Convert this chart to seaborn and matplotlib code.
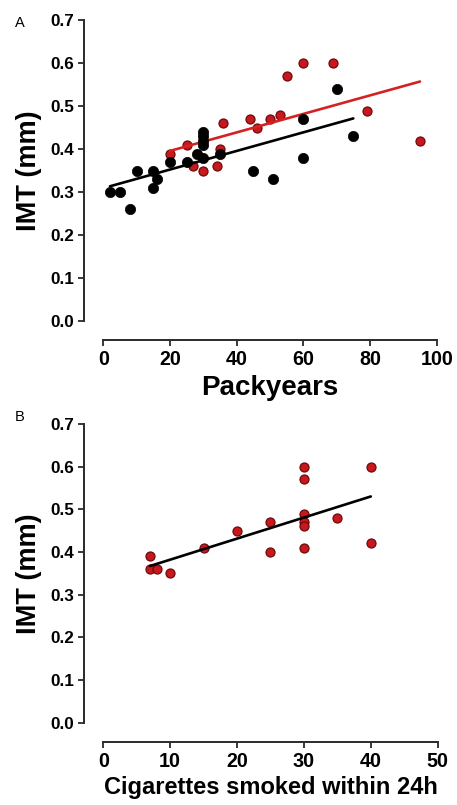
import matplotlib
matplotlib.use("Agg")
import matplotlib.pyplot as plt
import seaborn as sns
import pandas as pd

# Panel A: IMT versus pack-years, two groups
pack_black_x = [2, 5, 8, 10, 15, 15, 16, 20, 25, 28, 30, 30, 30, 30, 30, 35, 45, 51, 60, 60, 70, 75]
pack_black_y = [0.30, 0.30, 0.26, 0.35, 0.35, 0.31, 0.33, 0.37, 0.37, 0.39, 0.38, 0.44, 0.43,
                0.42, 0.41, 0.39, 0.35, 0.33, 0.47, 0.38, 0.54, 0.43]
pack_red_x = [20, 25, 27, 30, 34, 35, 36, 44, 46, 50, 53, 55, 60, 69, 79, 95]
pack_red_y = [0.39, 0.41, 0.36, 0.35, 0.36, 0.40, 0.46, 0.47, 0.45, 0.47, 0.48, 0.57, 0.60,
              0.60, 0.49, 0.42]

# Panel B: IMT versus cigarettes smoked within 24h
cig_x = [7, 7, 8, 10, 15, 20, 25, 25, 30, 30, 30, 30, 30, 30, 35, 40, 40]
cig_y = [0.39, 0.36, 0.36, 0.35, 0.41, 0.45, 0.47, 0.40, 0.60, 0.57, 0.49, 0.47, 0.46, 0.41,
         0.48, 0.60, 0.42]

y_ticks = [0.0, 0.1, 0.2, 0.3, 0.4, 0.5, 0.6, 0.7]
pack_ticks = [0, 20, 40, 60, 80, 100]
cig_ticks = [0, 10, 20, 30, 40, 50]

sns.set_theme(style="ticks")
plt.rcParams["font.family"] = ["Liberation Sans", "DejaVu Sans"]
plt.rcParams["text.color"] = "black"
plt.rcParams["axes.labelcolor"] = "black"
plt.rcParams["xtick.color"] = "black"
plt.rcParams["ytick.color"] = "black"

RED = "#c8171d"
RED_EDGE = "#6e0a0a"
RED_LINE = "#d42222"
SPINE = "#2a2a2a"

fig = plt.figure(figsize=(4.57, 8.05), dpi=100)
ax_a = fig.add_axes([0.2260, 0.6012, 0.7295, 0.3735])
ax_b = fig.add_axes([0.2260, 0.1022, 0.7317, 0.3711])

df_black = pd.DataFrame({"x": pack_black_x, "y": pack_black_y})
df_red = pd.DataFrame({"x": pack_red_x, "y": pack_red_y})
df_cig = pd.DataFrame({"x": cig_x, "y": cig_y})

red_scatter = dict(s=42, color=RED, edgecolor=RED_EDGE, linewidths=0.9, alpha=1, zorder=3)
black_scatter = dict(s=55, color="black", edgecolor="black", linewidths=0.5, alpha=1, zorder=4)

sns.regplot(data=df_red, x="x", y="y", ax=ax_a, ci=None,
            scatter_kws=red_scatter, line_kws=dict(color=RED_LINE, lw=1.9, zorder=3.5))
sns.regplot(data=df_black, x="x", y="y", ax=ax_a, ci=None,
            scatter_kws=black_scatter, line_kws=dict(color="black", lw=1.9, zorder=5))
sns.regplot(data=df_cig, x="x", y="y", ax=ax_b, ci=None,
            scatter_kws=red_scatter, line_kws=dict(color="black", lw=1.9, zorder=5))

for ax, xt, xlim, xlabel, xfs in [
    (ax_a, pack_ticks, (0, 100), "Packyears", 20),
    (ax_b, cig_ticks, (0, 50), "Cigarettes smoked within 24h", 17),
]:
    ax.set_xlim(*xlim)
    ax.set_ylim(0, 0.7)
    ax.set_xticks(xt)
    ax.set_yticks(y_ticks)
    for sp in ax.spines.values():
        sp.set_linewidth(1.4)
        sp.set_color(SPINE)
    sns.despine(ax=ax, offset=14, trim=True)
    ax.set_xticks(xt)
    ax.set_yticks(y_ticks)
    ax.set_xticklabels([str(t) for t in xt], fontsize=14.2, fontweight="bold")
    ax.set_yticklabels([f"{t:.1f}" for t in y_ticks], fontsize=12.3, fontweight="bold")
    ax.set_xlabel(xlabel, fontsize=xfs, fontweight="bold", labelpad=4)
    ax.set_ylabel("IMT (mm)", fontsize=19.5, fontweight="bold", labelpad=6)
    ax.tick_params(axis="both", direction="out", length=4, width=1.3, color=SPINE, pad=3)

fig.text(0.044, 0.972, "A", fontsize=10.5, ha="center", va="center")
fig.text(0.044, 0.482, "B", fontsize=10.5, ha="center", va="center")

fig.savefig("out.png", dpi=100)
